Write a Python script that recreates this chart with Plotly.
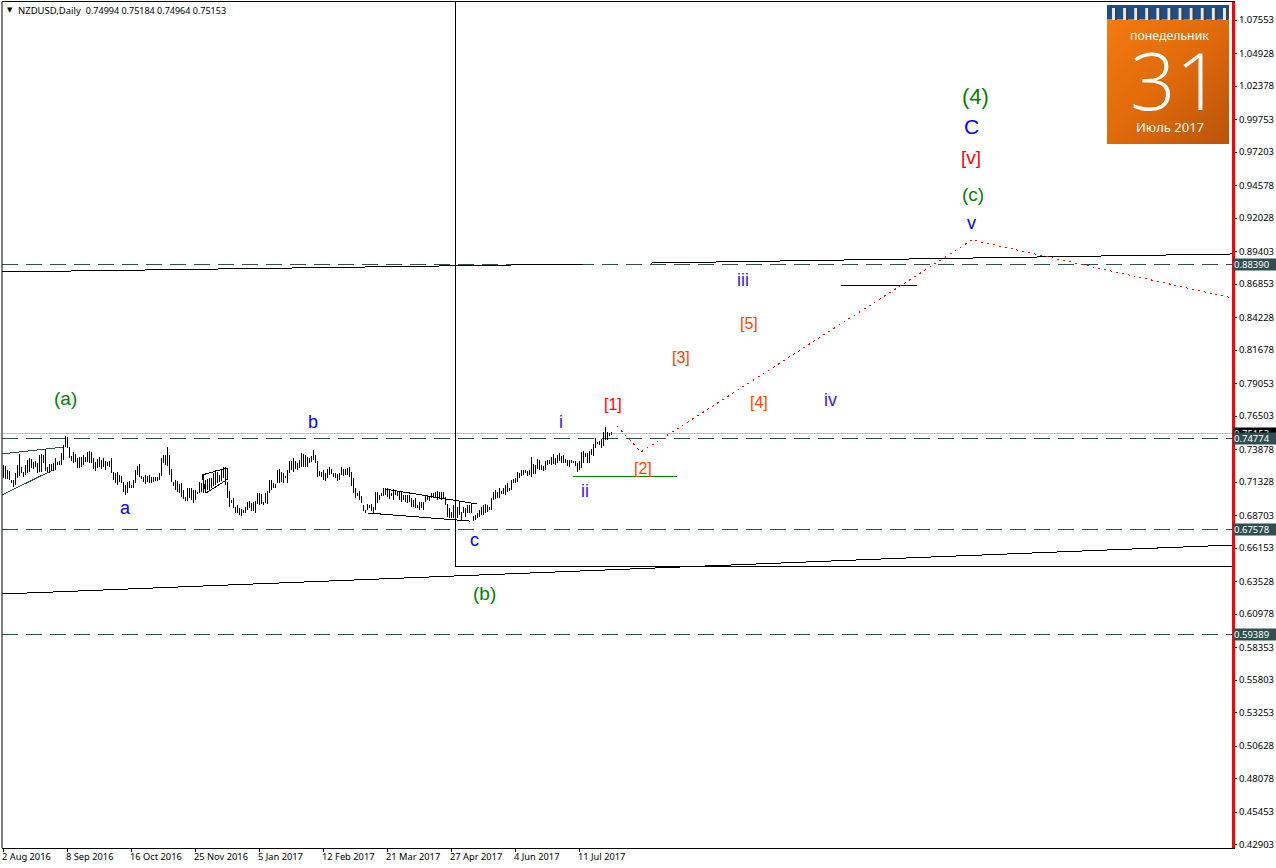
import base64
import plotly.graph_objects as go

bar_highs = [
    .7267,.7262,.7228,.7223,.7150,.7150,.7202,.7267,.7350,.7254,.7215,.7267,.7306,.7324,.7311,.7293,.7301,.7280,.7345,.7353,.7345,.7390,.7254,.7275,.7275,.7280,.7319,.7293,.7301,.7358,.7424,.7494,.7484,.7411,.7337,.7371,.7353,.7319,.7332,.7327,.7345,.7332,.7371,.7379,.7371,.7319,.7293,.7311,.7327,.7306,.7319,
    .7301,.7293,.7301,.7319,.7215,.7202,.7210,.7189,.7184,.7137,.7111,.7137,.7145,.7111,.7150,.7228,.7259,.7275,.7181,.7171,.7189,.7181,.7189,.7171,.7171,.7176,.7171,.7202,.7319,.7346,.7346,.7406,.7346,.7233,.7137,.7150,.7145,.7118,.7124,.7071,.7014,.7090,.7085,.7090,.7071,.7071,.7051,.7137,.7124,.7189,.7150,.7155,
    .7163,.7163,.7202,.7228,.7215,.7189,.7236,.7247,.7247,.7137,.7059,.6993,.7006,.6941,.6954,.6933,.6923,.6915,.6941,.6980,.6985,.6967,.6980,.6985,.7046,.7046,.7038,.6975,.7046,.7059,.7150,.7150,.7124,.7116,.7228,.7236,.7215,.7202,.7184,.7228,.7294,.7294,.7320,.7294,.7280,.7307,.7359,.7351,.7346,.7333,.7320,.7340,
    .7385,.7346,.7294,.7220,.7215,.7228,.7202,.7236,.7247,.7236,.7202,.7202,.7194,.7202,.7247,.7236,.7236,.7241,.7247,.7215,.7163,.7085,.7046,.7059,.7020,.6954,.6915,.6959,.6954,.6959,.6941,.7053,.7053,.7033,.7046,.7085,.7090,.7085,.7079,.7046,.7079,.7072,.7064,.7053,.7059,.7033,.7033,.7033,.7033,.7006,.6993,.7006,.6954,
    .6980,.6980,.6980,.7027,.7032,.7019,.7045,.7045,.7058,.7063,.7053,.7053,.7053,.7019,.6959,.6927,.6901,.6954,.6914,.6941,.6980,.6901,.6941,.6927,.6954,.6954,.6967,.6870,.6875,.6888,.6914,.6941,.6954,.6959,.6954,.6941,.7006,.7058,.7071,.7058,.7084,.7063,.7089,.7110,.7123,.7084,.7149,.7157,.7168,.7215,.7201,.7228,
    .7229,.7229,.7216,.7229,.7333,.7275,.7268,.7312,.7307,.7268,.7260,.7294,.7302,.7307,.7328,.7354,.7320,.7346,.7359,.7338,.7346,.7312,.7307,.7302,.7302,.7294,.7294,.7286,.7294,.7372,.7380,.7359,.7364,.7380,.7390,.7432,.7476,.7450,.7458,.7469,.7529,.7563,.7529,.7521,.7526,
]
bar_lows = [
    .7163,.7155,.7157,.7150,.7123,.7092,.7110,.7163,.7181,.7202,.7176,.7189,.7207,.7215,.7241,.7233,.7249,.7202,.7215,.7215,.7280,.7220,.7215,.7202,.7223,.7223,.7228,.7267,.7267,.7267,.7306,.7405,.7397,.7319,.7301,.7280,.7293,.7241,.7241,.7249,.7267,.7293,.7293,.7285,.7280,.7236,.7223,.7241,.7254,.7233,.7254,
    .7228,.7259,.7249,.7202,.7150,.7124,.7111,.7137,.7129,.7051,.7032,.7045,.7085,.7085,.7090,.7124,.7189,.7176,.7155,.7137,.7118,.7137,.7124,.7124,.7137,.7145,.7145,.7150,.7184,.7280,.7267,.7259,.7189,.7137,.7098,.7071,.7058,.7045,.7019,.6998,.6988,.6988,.7006,.6993,.6972,.6993,.7040,.7045,.7058,.7045,.7045,.7071,
    .7072,.7085,.7098,.7111,.7124,.7132,.7142,.7163,.7106,.7006,.6941,.6967,.6933,.6889,.6889,.6876,.6863,.6889,.6889,.6915,.6928,.6902,.6902,.6889,.6959,.6954,.6959,.6954,.6967,.6959,.7046,.7072,.7085,.7085,.7124,.7124,.7132,.7124,.7168,.7124,.7202,.7228,.7215,.7236,.7228,.7241,.7254,.7254,.7247,.7254,.7280,.7288,
    .7307,.7280,.7176,.7184,.7176,.7150,.7142,.7163,.7189,.7194,.7176,.7168,.7142,.7150,.7189,.7184,.7189,.7189,.7176,.7098,.7046,.7006,.7020,.6993,.6967,.6902,.6889,.6915,.6928,.6907,.6889,.6915,.6967,.6993,.7020,.7020,.7033,.7012,.7001,.7020,.6993,.7033,.7020,.6993,.6980,.6993,.6980,.6967,.6980,.6941,.6941,.6928,.6928,
    .6914,.6927,.6914,.6980,.6993,.6985,.7006,.7006,.7006,.6993,.7000,.6993,.7006,.6954,.6862,.6849,.6849,.6849,.6836,.6849,.6875,.6836,.6888,.6862,.6888,.6888,.6888,.6828,.6836,.6849,.6862,.6875,.6875,.6888,.6896,.6914,.6914,.6993,.7000,.7006,.7006,.7037,.7037,.7032,.7058,.7063,.7071,.7123,.7123,.7136,.7162,.7183,
    .7189,.7202,.7181,.7189,.7176,.7197,.7197,.7234,.7229,.7229,.7216,.7229,.7268,.7275,.7268,.7275,.7268,.7281,.7294,.7286,.7281,.7281,.7255,.7249,.7281,.7281,.7255,.7208,.7229,.7242,.7281,.7328,.7281,.7286,.7346,.7338,.7398,.7432,.7424,.7398,.7416,.7463,.7463,.7495,.7503,
]

date_ticks = [0, 32, 64, 96, 128, 160, 192, 224, 256, 288]
date_labels = ["2 Aug 2016", "8 Sep 2016", "16 Oct 2016", "25 Nov 2016", "5 Jan 2017",
               "12 Feb 2017", "21 Mar 2017", "27 Apr 2017", "4 Jun 2017", "11 Jul 2017"]
price_ticks = [1.07553, 1.04928, 1.02378, 0.99753, 0.97203, 0.94578, 0.92028, 0.89403, 0.86853,
               0.84228, 0.81678, 0.79053, 0.76503, 0.73878, 0.71328, 0.68703, 0.66153, 0.63528,
               0.60978, 0.58353, 0.55803, 0.53253, 0.50628, 0.48078, 0.45453, 0.42903]
dashed_levels = [0.88390, 0.74774, 0.67578, 0.59389]
bid_level = 0.75153

X_MIN, X_MAX = -0.5, 614.5
Y_MIN, Y_MAX = 0.42638, 1.08964

# trend lines: (bars, prices)
black_lines = [
    ([-0.5, 290], [0.8780, 0.8842]),
    ([324, 614.5], [0.8850, 0.8921]),
    ([-0.5, 614.5], [0.6255, 0.6639]),
    ([419, 457], [0.8670, 0.8670]),
    ([226, 226, 614.5], [Y_MAX, 0.6467, 0.6467]),
    ([99.5, 112, 112.5, 101.5, 99.5], [0.7188, 0.7243, 0.7157, 0.7047, 0.7188]),
    ([191, 237], [0.7078, 0.6961]),
    ([182.5, 233.5], [0.6890, 0.6827]),
]
slate_lines = [
    ([-0.5, 30.5], [0.7353, 0.7408]),
    ([-0.5, 25], [0.7031, 0.7228]),
]
green_line = ([285, 337], [0.7180, 0.7180])
forecast_bars = [307, 319, 484.5, 614.5]
forecast_prices = [0.7572, 0.7368, 0.9031, 0.8576]

GREEN, BLUE, RED, ORANGE, VIOLET = "#008000", "#0000ff", "#ff0000", "#ff4500", "#4a14e0"
wave_labels = [
    ("(a)", 31, 0.7784, GREEN, 19), ("(b)", 240.5, 0.6263, GREEN, 19), ("(4)", 486, 1.0152, GREEN, 22),
    ("(c)", 485, 0.9391, GREEN, 19), ("C", 484, 0.9917, BLUE, 21), ("v", 484, 0.9164, BLUE, 18),
    ("a", 61, 0.6930, BLUE, 18), ("b", 155, 0.7604, BLUE, 18), ("c", 235.5, 0.6679, BLUE, 18),
    ("[v]", 484, 0.9681, RED, 19), ("[1]", 305, 0.7737, RED, 16), ("[2]", 320, 0.7243, ORANGE, 16),
    ("[3]", 339, 0.8113, ORANGE, 16), ("[4]", 378, 0.7753, ORANGE, 16), ("[5]", 373, 0.8372, ORANGE, 16),
    ("i", 279, 0.7604, VIOLET, 18), ("ii", 291, 0.7063, VIOLET, 18), ("iii", 370, 0.8717, VIOLET, 18),
    ("iv", 413.5, 0.7776, VIOLET, 18),
]

fig = go.Figure()
SANS = "Liberation Sans"
UI = "Noto Sans"
UI_SIZE = 9.5

def line(xs, ys, color, width=1, dash=None):
    fig.add_trace(go.Scatter(x=xs, y=ys, mode="lines", hoverinfo="skip", showlegend=False,
                             line=dict(color=color, width=width, dash=dash)))

fig_bar_x, fig_bar_y = [], []
for i, (h, l) in enumerate(zip(bar_highs, bar_lows)):
    fig_bar_x += [i, i, None]
    fig_bar_y += [l, h, None]

line([X_MIN, X_MAX], [bid_level, bid_level], "#c0c0c0")
for lv in dashed_levels:
    line([X_MIN, X_MAX], [lv, lv], "#2f4f4f", dash="16px,8px")
for xs, ys in black_lines:
    line(xs, ys, "#000000")
for xs, ys in slate_lines:
    line(xs, ys, "#2f4f4f")
line(fig_bar_x, fig_bar_y, "#000000")
line(*green_line, GREEN)
line(forecast_bars, forecast_prices, RED, dash="2px,4px")

annos = []
for t, x, y, c, s in wave_labels:
    annos.append(dict(text=t, x=x, y=y, xref="x", yref="y", showarrow=False,
                      xanchor="center", yanchor="middle",
                      font=dict(family=SANS, size=s, color=c)))

def paper_x(px): return (px - 2) / 1230
def paper_y(py): return (848 - py) / 846

# price tags
for lv, bg in [(bid_level, "#000000")] + [(v, "#2f4f4f") for v in dashed_levels]:
    annos.append(dict(text=f"{lv:.5f}", x=1, xref="paper", y=lv, yref="y", xanchor="left", yanchor="middle",
                      xshift=1, showarrow=False, width=43, height=11, align="left", borderpad=0,
                      bgcolor=bg, font=dict(family=UI, size=UI_SIZE, color="#ffffff")))

# header
annos.append(dict(text="▼", x=paper_x(5), y=paper_y(10), xref="paper", yref="paper", xanchor="left",
                  yanchor="middle", showarrow=False, font=dict(family="DejaVu Sans", size=7, color="#000000")))
annos.append(dict(text="NZDUSD,Daily  <span style='font-size:9px'>0.74994 0.75184 0.74964 0.75153</span>",
                  x=paper_x(16), y=paper_y(10),
                  xref="paper", yref="paper", xanchor="left", yanchor="middle", showarrow=False,
                  font=dict(family=UI, size=UI_SIZE, color="#000000")))

# calendar text
annos += [
    dict(text="понедельник", x=paper_x(1169), y=paper_y(35), xref="paper", yref="paper", showarrow=False,
         xanchor="center", yanchor="middle", font=dict(family=UI, size=12.3, color="#ffffff")),
    dict(text="31", x=paper_x(1175), y=paper_y(79), xref="paper", yref="paper", showarrow=False,
         xanchor="center", yanchor="middle", font=dict(family="Open Sans", size=80, color="#ffffff", weight=300)),
    dict(text="Июль 2017", x=paper_x(1170), y=paper_y(127), xref="paper", yref="paper", showarrow=False,
         xanchor="center", yanchor="middle", font=dict(family=UI, size=13, color="#ffffff")),
]

rings = "".join(
    f'<rect x="{5 + 11.1 * k:.1f}" y="3" width="3" height="12" fill="#e8e8e8"/>'
    f'<rect x="{8 + 11.1 * k:.1f}" y="3" width="2" height="12" fill="#404040"/>' for k in range(11))
svg = ('<svg xmlns="http://www.w3.org/2000/svg" width="122" height="139">'
       '<defs><linearGradient id="g" x1="0" y1="0" x2="1" y2="1">'
       '<stop offset="0" stop-color="#f47a10"/><stop offset="0.5" stop-color="#e06a0a"/>'
       '<stop offset="1" stop-color="#b8540a"/></linearGradient></defs>'
       '<rect width="122" height="14" fill="#1c4e8c"/>'
       '<rect y="14" width="122" height="125" fill="url(#g)"/>' + rings + '</svg>')
src = "data:image/svg+xml;base64," + base64.b64encode(svg.encode()).decode()

fig.update_layout(
    width=1276, height=868, paper_bgcolor="#ffffff", plot_bgcolor="#ffffff",
    margin=dict(l=2, r=44, t=2, b=20, autoexpand=False), showlegend=False,
    annotations=annos,
    images=[dict(source=src, xref="paper", yref="paper", x=paper_x(1107), y=paper_y(5),
                 sizex=122 / 1230, sizey=139 / 846, xanchor="left", yanchor="top",
                 sizing="stretch", layer="above")],
    shapes=[dict(type="line", xref="paper", yref="paper", x0=0, x1=0, y0=0, y1=1,
                 line=dict(color="#000000", width=1))],
    xaxis=dict(range=[X_MIN, X_MAX], tickmode="array", tickvals=date_ticks, ticktext=date_labels,
               showgrid=False, zeroline=False, showline=True, linecolor="#000000", linewidth=1,
               mirror=True, ticks="outside", ticklen=3, tickcolor="#000000", tickangle=0, automargin=False,
               ticklabelposition="outside right", ticklabelshift=-2,
               tickfont=dict(family=UI, size=9.3, color="#000000")),
    yaxis=dict(range=[Y_MIN, Y_MAX], side="right", tickmode="array", tickvals=price_ticks, automargin=False,
               ticktext=[f"{v:.5f}" for v in price_ticks], showgrid=False, zeroline=False,
               showline=True, linecolor="#ff0000", linewidth=3, ticks="outside", ticklen=2,
               tickcolor="#000000", tickfont=dict(family=UI, size=UI_SIZE, color="#000000")),
)

post = """
document.body.style.margin='0';
document.documentElement.style.overflow='hidden';
document.querySelectorAll('.scatterlayer path').forEach(function(p){p.style.shapeRendering='crispEdges';});
"""
fig.write_html("out.html", post_script=post, config={"displayModeBar": False})
